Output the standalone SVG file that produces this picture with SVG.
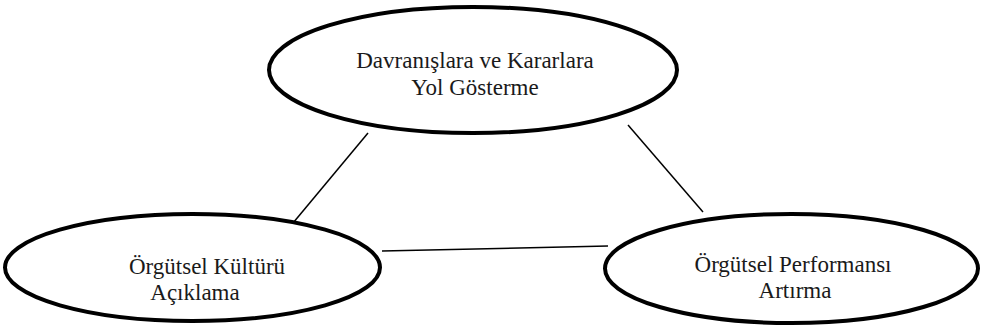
<svg xmlns="http://www.w3.org/2000/svg" width="987" height="329" viewBox="0 0 987 329">
  <style>
    .oval { fill: #ffffff; stroke: #000000; stroke-width: 4; }
    .link { stroke: #000000; stroke-width: 1.5; fill: none; }
    .label { font-size: 23px; fill: #1a1a1a; text-anchor: middle; }
  </style>
  <rect width="987" height="329" fill="#ffffff"/>
  <g id="connectors">
    <line class="link" x1="368" y1="133" x2="293" y2="223"/>
    <line class="link" x1="628" y1="125" x2="703" y2="212"/>
    <line class="link" x1="382" y1="251" x2="608" y2="246"/>
  </g>
  <g font-family="'Liberation Serif', 'DejaVu Serif', serif">
    <g id="node-guide">
      <ellipse class="oval" cx="473" cy="70" rx="204" ry="63"/>
      <text class="label" x="475" y="68">Davranışlara ve Kararlara</text>
      <text class="label" x="475" y="95">Yol Gösterme</text>
    </g>
    <g id="node-culture">
      <ellipse class="oval" cx="192.5" cy="267.5" rx="187.5" ry="53.5"/>
      <text class="label" x="207" y="274">Örgütsel Kültürü</text>
      <text class="label" x="195" y="300">Açıklama</text>
    </g>
    <g id="node-performance">
      <ellipse class="oval" cx="791.5" cy="268.5" rx="186.5" ry="54.5"/>
      <text class="label" x="793" y="272">Örgütsel Performansı</text>
      <text class="label" x="795" y="298">Artırma</text>
    </g>
  </g>
</svg>
